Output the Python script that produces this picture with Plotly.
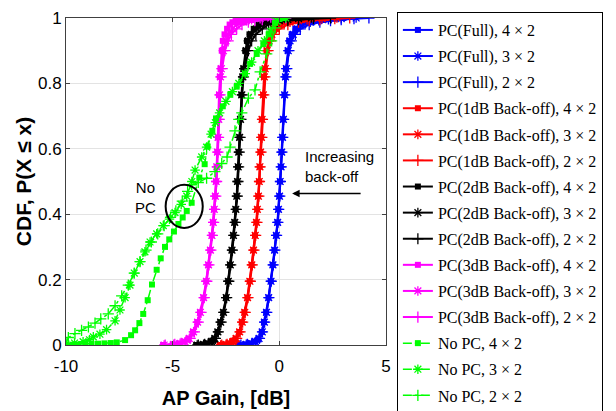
import plotly.graph_objects as go

# CDF levels shared by the power-controlled (PC) curves
levels_pc = [0.0, 0.002, 0.005, 0.01, 0.02, 0.04, 0.07, 0.1, 0.145, 0.195, 0.245, 0.29,
             0.335, 0.375, 0.415, 0.455, 0.5, 0.545, 0.59, 0.635, 0.69, 0.765, 0.82, 0.845,
             0.9, 0.93, 0.95, 0.967, 0.98, 0.987, 0.992, 0.995, 0.998, 1.0]

full_4x2 = [-1.9, -1.6, -1.35, -1.15, -0.97, -0.82, -0.72, -0.62, -0.51, -0.4, -0.31, -0.23,
            -0.15, -0.09, -0.05, 0.0, 0.03, 0.07, 0.1, 0.14, 0.18, 0.24, 0.28, 0.31,
            0.39, 0.46, 0.58, 0.75, 0.97, 1.3, 1.65, 2.0, 2.6, 3.0]
full_3x2 = [-1.85, -1.55, -1.3, -1.12, -0.95, -0.8, -0.7, -0.6, -0.5, -0.39, -0.3, -0.22,
            -0.14, -0.08, -0.04, 0.01, 0.04, 0.08, 0.11, 0.15, 0.19, 0.25, 0.29, 0.33,
            0.42, 0.5, 0.65, 0.85, 1.1, 1.45, 1.85, 2.3, 2.9, 3.6]
full_2x2 = [-1.8, -1.5, -1.28, -1.1, -0.93, -0.79, -0.69, -0.59, -0.49, -0.38, -0.29, -0.21,
            -0.13, -0.07, -0.03, 0.02, 0.05, 0.09, 0.12, 0.16, 0.2, 0.26, 0.31, 0.35,
            0.45, 0.56, 0.75, 0.98, 1.4, 1.9, 2.4, 2.9, 3.5, 4.2]

bo1_4x2 = [-2.8, -2.55, -2.35, -2.2, -2.05, -1.88, -1.76, -1.64, -1.5, -1.39, -1.3, -1.22,
           -1.14, -1.08, -1.04, -0.99, -0.95, -0.92, -0.89, -0.85, -0.82, -0.76, -0.72, -0.68,
           -0.6, -0.53, -0.43, -0.27, -0.05, 0.3, 0.65, 1.0, 1.6, 2.2]
bo1_3x2 = [-2.75, -2.5, -2.32, -2.17, -2.02, -1.86, -1.74, -1.62, -1.49, -1.38, -1.29, -1.21,
           -1.13, -1.07, -1.03, -0.98, -0.94, -0.91, -0.88, -0.84, -0.81, -0.75, -0.7, -0.66,
           -0.57, -0.48, -0.35, -0.15, 0.1, 0.5, 0.9, 1.3, 2.0, 2.7]
bo1_2x2 = [-2.7, -2.45, -2.28, -2.14, -2.0, -1.84, -1.72, -1.6, -1.47, -1.36, -1.27, -1.19,
           -1.11, -1.05, -1.01, -0.96, -0.93, -0.9, -0.86, -0.82, -0.79, -0.73, -0.68, -0.63,
           -0.53, -0.42, -0.25, 0.0, 0.4, 0.9, 1.4, 1.9, 2.6, 3.3]

bo2_4x2 = [-3.9, -3.6, -3.38, -3.2, -3.05, -2.9, -2.77, -2.63, -2.5, -2.4, -2.31, -2.23,
           -2.16, -2.1, -2.05, -2.0, -1.97, -1.94, -1.91, -1.87, -1.83, -1.78, -1.73, -1.69,
           -1.6, -1.52, -1.4, -1.2, -0.98, -0.7, -0.4, -0.1, 0.3, 0.9]
bo2_3x2 = [-3.85, -3.55, -3.34, -3.17, -3.02, -2.88, -2.75, -2.62, -2.49, -2.39, -2.3, -2.22,
           -2.15, -2.09, -2.04, -1.99, -1.96, -1.93, -1.9, -1.86, -1.82, -1.76, -1.71, -1.66,
           -1.55, -1.45, -1.3, -1.05, -0.75, -0.4, 0.0, 0.4, 0.9, 1.5]
bo2_2x2 = [-3.8, -3.5, -3.3, -3.14, -3.0, -2.86, -2.73, -2.6, -2.47, -2.37, -2.28, -2.2,
           -2.13, -2.07, -2.02, -1.97, -1.94, -1.91, -1.88, -1.84, -1.8, -1.74, -1.68, -1.62,
           -1.45, -1.3, -1.1, -0.8, -0.5, -0.1, 0.4, 0.9, 1.6, 2.4]

bo3_4x2 = [-5.45, -5.0, -4.7, -4.45, -4.25, -4.05, -3.85, -3.72, -3.56, -3.43, -3.33, -3.24,
           -3.17, -3.11, -3.06, -3.01, -2.97, -2.94, -2.91, -2.88, -2.86, -2.83, -2.79, -2.76,
           -2.7, -2.65, -2.57, -2.45, -2.33, -2.2, -2.05, -1.9, -1.6, -1.1]
bo3_3x2 = [-5.4, -4.95, -4.65, -4.42, -4.22, -4.02, -3.83, -3.7, -3.55, -3.42, -3.32, -3.23,
           -3.16, -3.1, -3.05, -3.0, -2.96, -2.93, -2.9, -2.87, -2.84, -2.8, -2.76, -2.72,
           -2.62, -2.5, -2.38, -2.2, -2.0, -1.8, -1.55, -1.3, -0.9, -0.4]
bo3_2x2 = [-5.35, -4.9, -4.6, -4.38, -4.18, -3.98, -3.8, -3.67, -3.52, -3.4, -3.3, -3.21,
           -3.14, -3.08, -3.03, -2.98, -2.94, -2.91, -2.88, -2.85, -2.82, -2.78, -2.73, -2.68,
           -2.55, -2.4, -2.25, -2.0, -1.75, -1.45, -1.15, -0.8, -0.3, 0.3]

# No power control curves (x in dB, CDF)
nopc_4x2_x = [-10.0, -9.7, -9.4, -9.1, -8.8, -8.5, -8.2, -7.9, -7.62, -7.23, -6.95, -6.76,
              -6.56, -6.38, -6.17, -5.97, -5.75, -5.56, -5.36, -5.16, -4.94, -4.73, -4.53,
              -4.34, -4.11, -3.75, -3.5, -3.36, -3.14, -2.97, -2.65, -2.3, -2.0, -1.61,
              -1.37, -1.06, -0.75, -0.5, -0.2, 0.2]
nopc_4x2_y = [0.0, 0.001, 0.0015, 0.002, 0.003, 0.004, 0.005, 0.006, 0.008, 0.015, 0.03, 0.045,
              0.067, 0.095, 0.137, 0.185, 0.23, 0.265, 0.3, 0.323, 0.347, 0.37, 0.39,
              0.41, 0.435, 0.512, 0.553, 0.607, 0.655, 0.693, 0.73, 0.765, 0.79, 0.83,
              0.86, 0.89, 0.92, 0.95, 0.985, 1.0]
nopc_3x2_x = [-10.0, -9.6, -9.2, -8.9, -8.72, -8.41, -8.1, -7.7, -7.47, -7.23, -7.0, -6.8,
              -6.53, -6.3, -6.06, -5.75, -5.44, -5.15, -4.89, -4.6, -4.34, -4.1, -3.95,
              -3.64, -3.41, -3.2, -3.0, -2.8, -2.5, -2.2, -1.9, -1.6, -1.3, -1.0, -0.7,
              -0.4, -0.1, 0.3]
nopc_3x2_y = [0.003, 0.006, 0.01, 0.016, 0.025, 0.033, 0.047, 0.074, 0.107, 0.145, 0.183, 0.22,
              0.255, 0.285, 0.315, 0.34, 0.365, 0.385, 0.405, 0.43, 0.455, 0.5, 0.535,
              0.575, 0.605, 0.645, 0.68, 0.71, 0.745, 0.775, 0.8, 0.83, 0.865, 0.9, 0.93,
              0.96, 0.99, 1.0]
nopc_2x2_x = [-10.0, -9.89, -9.58, -9.27, -8.95, -8.64, -8.37, -8.02, -7.7, -7.39, -7.08,
              -6.8, -6.53, -6.25, -6.0, -5.7, -5.4, -5.1, -4.85, -4.55, -4.3, -4.11, -3.8,
              -3.41, -3.02, -2.7, -2.45, -2.31, -2.08, -1.9, -1.76, -1.45, -1.14, -0.9,
              -0.59, -0.36, -0.2, -0.1]
nopc_2x2_y = [0.005, 0.023, 0.035, 0.045, 0.055, 0.067, 0.08, 0.095, 0.12, 0.15, 0.183,
              0.22, 0.255, 0.29, 0.315, 0.34, 0.365, 0.39, 0.41, 0.44, 0.47, 0.49, 0.497,
              0.51, 0.53, 0.555, 0.575, 0.605, 0.655, 0.69, 0.71, 0.755, 0.78, 0.835,
              0.89, 0.93, 0.97, 1.0]

x_ticks = [-10, -5, 0, 5]
y_ticks = [0, 0.2, 0.4, 0.6, 0.8, 1]

pc_series = [
    ("PC(Full), 4 × 2", full_4x2, "#0000ff", "square"),
    ("PC(Full), 3 × 2", full_3x2, "#0000ff", "asterisk-open"),
    ("PC(Full), 2 × 2", full_2x2, "#0000ff", "cross-thin-open"),
    ("PC(1dB Back-off), 4 × 2", bo1_4x2, "#ff0000", "square"),
    ("PC(1dB Back-off), 3 × 2", bo1_3x2, "#ff0000", "asterisk-open"),
    ("PC(1dB Back-off), 2 × 2", bo1_2x2, "#ff0000", "cross-thin-open"),
    ("PC(2dB Back-off), 4 × 2", bo2_4x2, "#000000", "square"),
    ("PC(2dB Back-off), 3 × 2", bo2_3x2, "#000000", "asterisk-open"),
    ("PC(2dB Back-off), 2 × 2", bo2_2x2, "#000000", "cross-thin-open"),
    ("PC(3dB Back-off), 4 × 2", bo3_4x2, "#ff00ff", "square"),
    ("PC(3dB Back-off), 3 × 2", bo3_3x2, "#ff00ff", "asterisk-open"),
    ("PC(3dB Back-off), 2 × 2", bo3_2x2, "#ff00ff", "cross-thin-open"),
]
nopc_series = [
    ("No PC, 4 × 2", nopc_4x2_x, nopc_4x2_y, "square"),
    ("No PC, 3 × 2", nopc_3x2_x, nopc_3x2_y, "asterisk-open"),
    ("No PC, 2 × 2", nopc_2x2_x, nopc_2x2_y, "cross-thin-open"),
]

def marker_for(sym, color):
    if sym == "square":
        return dict(symbol=sym, size=6, color=color, line=dict(width=0))
    return dict(symbol=sym, size=8, color=color, line=dict(width=1.3, color=color))

fig = go.Figure()
for i, (name, xs, color, sym) in enumerate(pc_series):
    fig.add_trace(go.Scatter(x=xs, y=levels_pc, name=name, mode="lines+markers",
                             line=dict(color=color, width=2), marker=marker_for(sym, color),
                             legendgroup="g%02d" % i))
for j, (name, xs, ys, sym) in enumerate(nopc_series):
    fig.add_trace(go.Scatter(x=xs, y=ys, name=name, mode="lines+markers",
                             line=dict(color="#00ff00", width=1.5, dash="dashdot"),
                             marker=marker_for(sym, "#00ff00"),
                             legendgroup="g%02d" % (12 + j)))

fig.add_shape(type="circle", xref="x", yref="y", x0=-5.33, x1=-3.59, y0=0.358, y1=0.49,
              line=dict(color="black", width=2))
fig.add_annotation(x=-6.28, y=0.45, text="No<br>PC", showarrow=False,
                   font=dict(family="Liberation Sans", size=15, color="black"), align="center")
fig.add_annotation(x=1.1, y=0.545, xanchor="left", text="Increasing<br>back-off", showarrow=False,
                   font=dict(family="Liberation Sans", size=15, color="black"), align="left")
fig.add_annotation(x=0.6, y=0.463, ax=3.88, ay=0.463, xref="x", yref="y", axref="x", ayref="y",
                   showarrow=True, arrowhead=2, arrowsize=1, arrowwidth=1.5, arrowcolor="black",
                   text="")

axis_common = dict(showgrid=True, gridcolor="#e3e3e3", gridwidth=1, zeroline=False,
                   showline=True, linecolor="#404040", linewidth=1, mirror="ticks",
                   ticks="inside", ticklen=4, tickcolor="#404040", automargin=False,
                   ticklabeloverflow="allow",
                   tickfont=dict(family="Liberation Sans", size=17, color="black"))

fig.update_layout(
    width=608, height=403,
    margin=dict(l=58, r=230, t=10, b=66, autoexpand=False),
    plot_bgcolor="white", paper_bgcolor="white",
    xaxis=dict(range=[-10, 5], tickvals=x_ticks, ticktext=[str(t) for t in x_ticks],
               ticklabelstandoff=6,
               title=dict(text="<b>AP Gain, [dB]</b>", standoff=15,
                          font=dict(family="Liberation Sans", size=20, color="black")),
               **axis_common),
    yaxis=dict(range=[0, 1], tickvals=y_ticks, ticktext=["0", "0.2", "0.4", "0.6", "0.8", "1"],
               title=dict(text="<b>CDF, P(X ≤ x)</b>", standoff=0,
                          font=dict(family="Liberation Sans", size=21, color="black")),
               **axis_common),
    legend=dict(x=1.034, y=0.99, xref="paper", yref="container", xanchor="left", yanchor="top",
                bordercolor="black", borderwidth=1,
                bgcolor="white", font=dict(family="Liberation Serif", size=16, color="black"),
                itemwidth=30, traceorder="grouped", tracegroupgap=2.3, maxheight=1.0),
    showlegend=True,
)

fig.write_html("out.html")
